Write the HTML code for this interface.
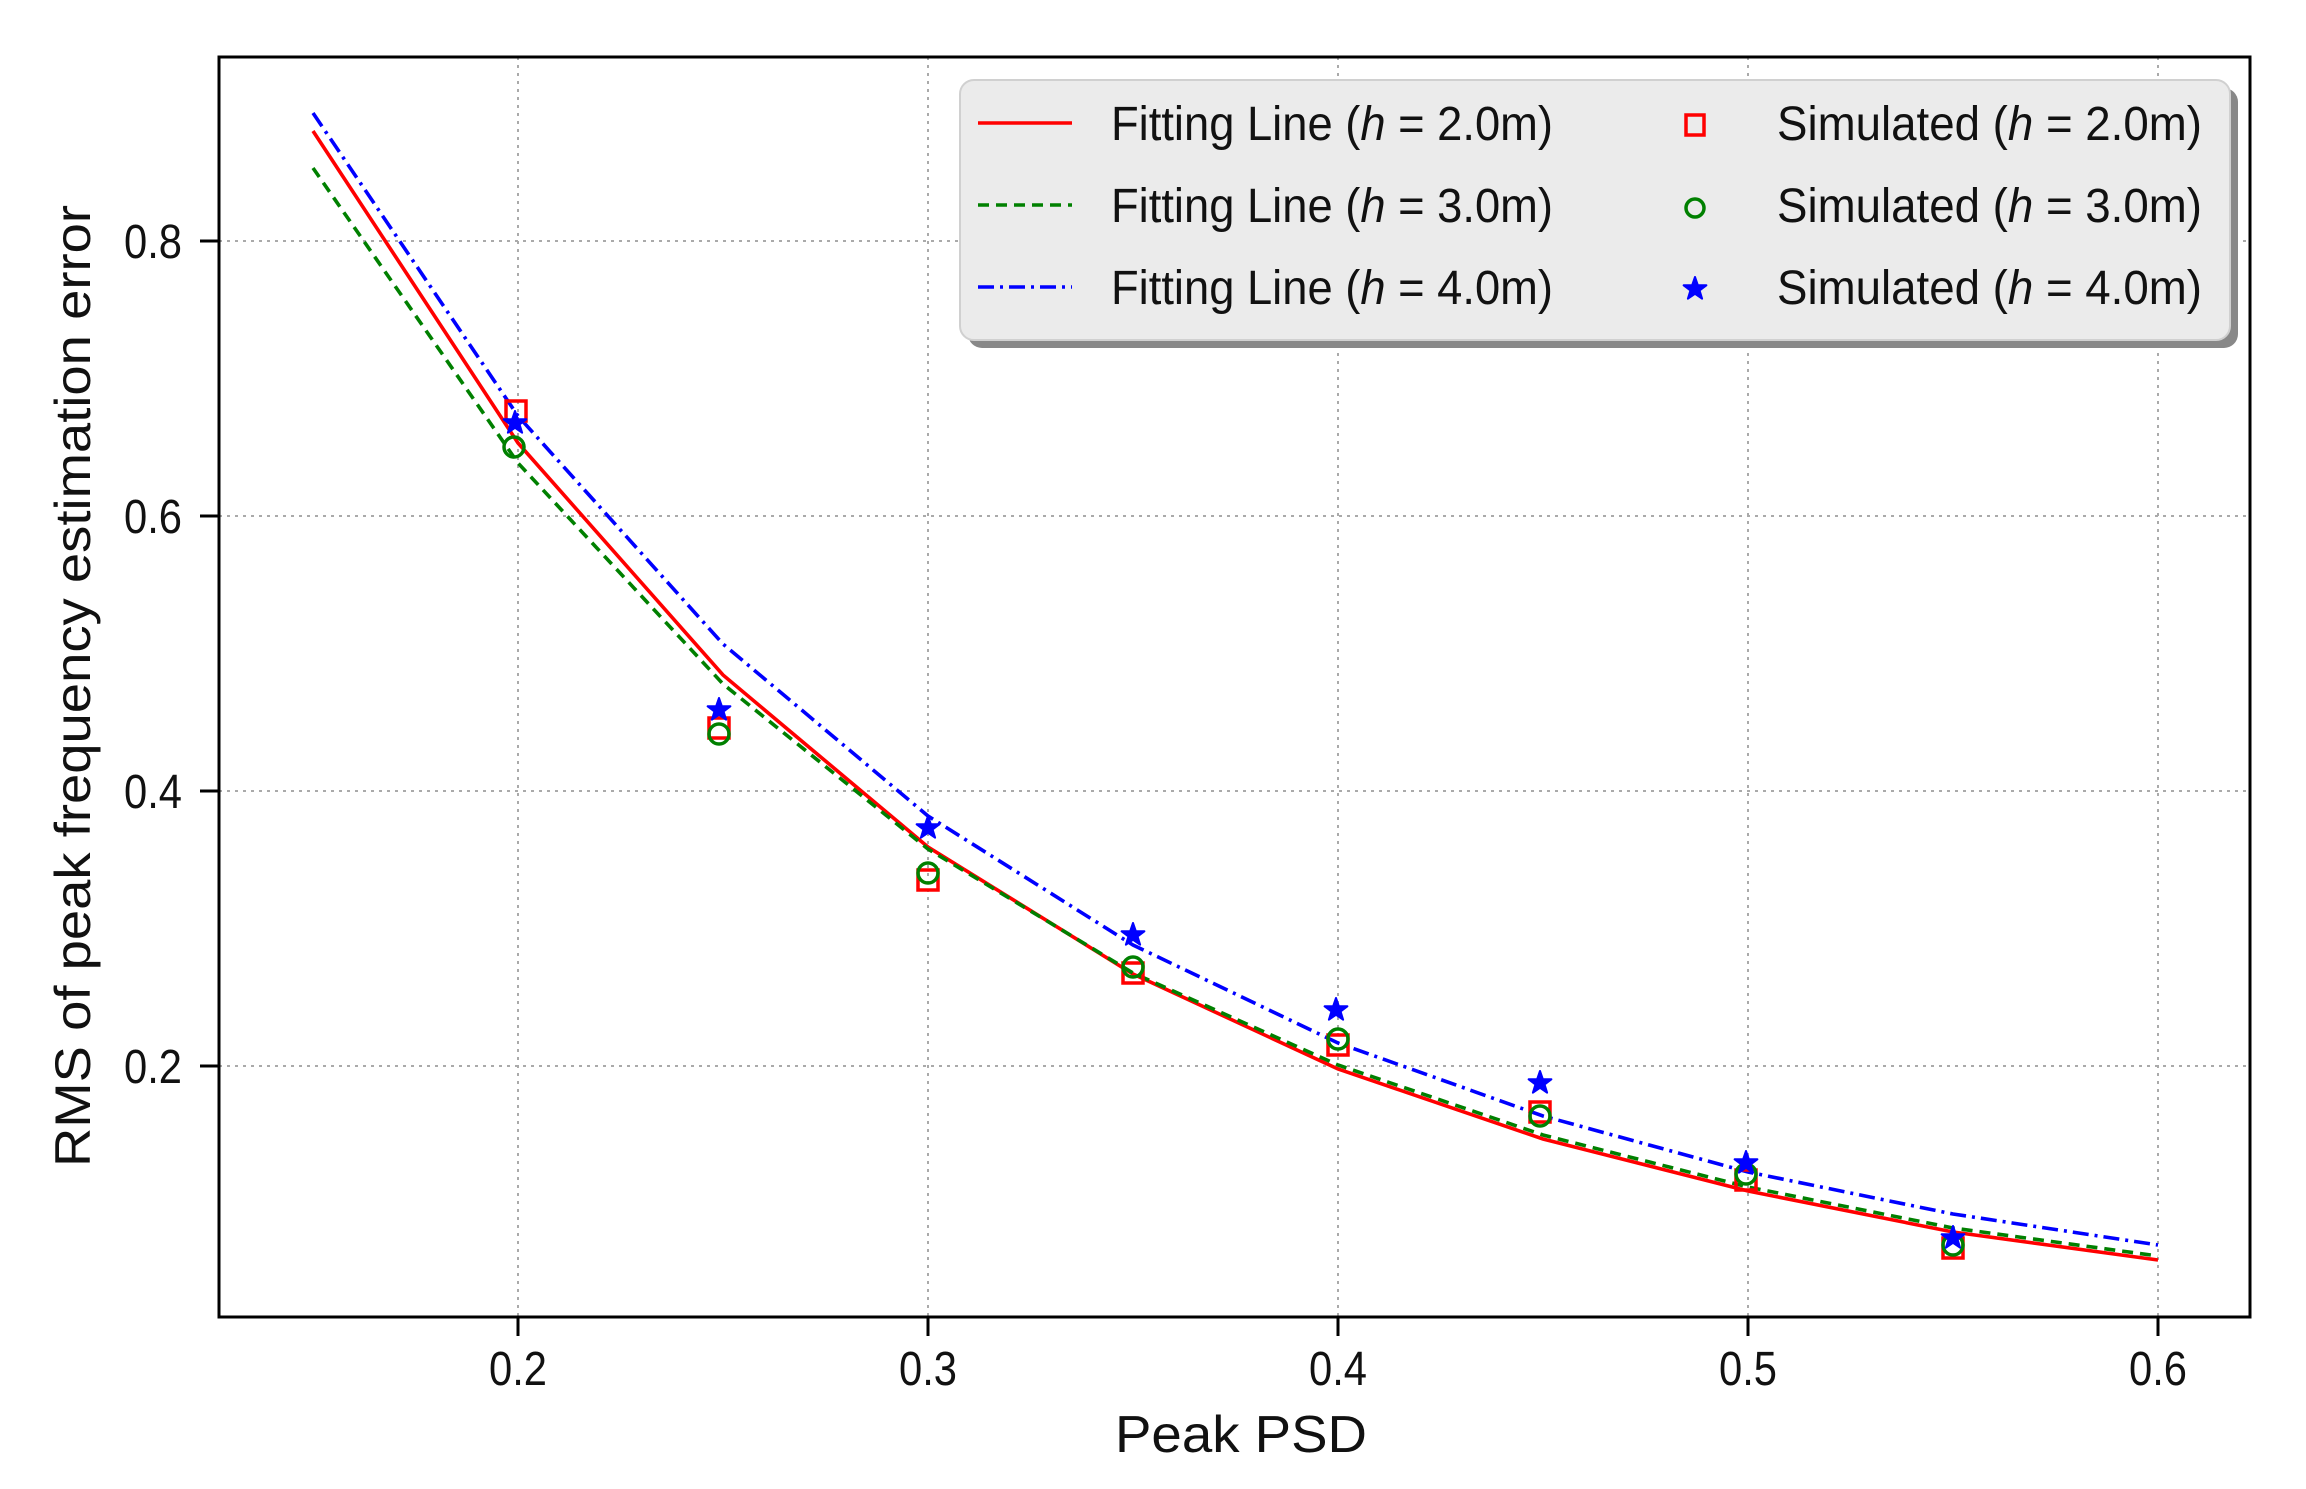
<!DOCTYPE html>
<html><head><meta charset="utf-8"><style>
html,body{margin:0;padding:0;background:#fff;}
svg{display:block;font-family:"Liberation Sans",Arial,sans-serif;}
</style></head><body>
<svg width="2306" height="1489" viewBox="0 0 2306 1489" xmlns="http://www.w3.org/2000/svg">
<defs>
<clipPath id="c"><rect x="219" y="57" width="2031" height="1260"/></clipPath>
<path id="star" d="M0,-12 L2.8,-3.9 L11.4,-3.7 L4.6,1.5 L7.1,9.7 L0,4.8 L-7.1,9.7 L-4.6,1.5 L-11.4,-3.7 L-2.8,-3.9 Z" fill="#0000ff" stroke="#0000ff" stroke-width="2" stroke-linejoin="round"/>
</defs>
<rect width="2306" height="1489" fill="#fff"/>
<g stroke="#aaa" stroke-width="2" stroke-dasharray="3,5">
<line x1="518" y1="57" x2="518" y2="1317"/><line x1="928" y1="57" x2="928" y2="1317"/>
<line x1="1338" y1="57" x2="1338" y2="1317"/><line x1="1748" y1="57" x2="1748" y2="1317"/>
<line x1="2158" y1="57" x2="2158" y2="1317"/>
<line x1="219" y1="241" x2="2250" y2="241"/><line x1="219" y1="516" x2="2250" y2="516"/>
<line x1="219" y1="791" x2="2250" y2="791"/><line x1="219" y1="1066" x2="2250" y2="1066"/>
</g>
<g clip-path="url(#c)" fill="none" stroke-width="3.6">
<polyline stroke="#ff0000" points="313,131 518,443 723,675 928,847 1133,974 1338,1069 1543,1139 1748,1191 1953,1232 2158,1260"/>
<polyline stroke="#008000" stroke-dasharray="11,7" points="313,168 518,463 723,684 928,849 1133,973 1338,1065 1543,1135 1748,1187 1953,1228 2158,1256"/>
<polyline stroke="#0000ff" stroke-dasharray="16,6,3,6" points="313,113 518,416 723,644 928,816 1133,945 1338,1043 1543,1116 1748,1172 1953,1214 2158,1245"/>
</g>
<g fill="none" stroke="#ff0000" stroke-width="3.5">
<rect x="506" y="401" width="20" height="20"/><rect x="709" y="718" width="20" height="20"/>
<rect x="918" y="870" width="20" height="20"/><rect x="1123" y="963" width="20" height="20"/>
<rect x="1328" y="1035" width="20" height="20"/><rect x="1530" y="1102" width="20" height="20"/>
<rect x="1736" y="1170" width="20" height="20"/><rect x="1943" y="1238" width="20" height="20"/>
</g>
<g fill="none" stroke="#008000" stroke-width="3.5">
<circle cx="514" cy="447" r="10"/><circle cx="719" cy="734" r="10"/><circle cx="928" cy="873" r="10"/>
<circle cx="1133" cy="967" r="10"/><circle cx="1338" cy="1039" r="10"/><circle cx="1540" cy="1116" r="10"/>
<circle cx="1746" cy="1174" r="10"/><circle cx="1953" cy="1245" r="10"/>
</g>
<use href="#star" x="515" y="423"/><use href="#star" x="719" y="710"/><use href="#star" x="928" y="828"/>
<use href="#star" x="1133" y="935"/><use href="#star" x="1336" y="1010"/><use href="#star" x="1540" y="1083"/>
<use href="#star" x="1746" y="1163"/><use href="#star" x="1953" y="1238"/>
<rect x="219" y="57" width="2031" height="1260" fill="none" stroke="#000" stroke-width="3"/>
<g stroke="#000" stroke-width="3">
<line x1="518" y1="1317" x2="518" y2="1336"/><line x1="928" y1="1317" x2="928" y2="1336"/>
<line x1="1338" y1="1317" x2="1338" y2="1336"/><line x1="1748" y1="1317" x2="1748" y2="1336"/>
<line x1="2158" y1="1317" x2="2158" y2="1336"/>
<line x1="200" y1="241" x2="219" y2="241"/><line x1="200" y1="516" x2="219" y2="516"/>
<line x1="200" y1="791" x2="219" y2="791"/><line x1="200" y1="1066" x2="219" y2="1066"/>
</g>
<g font-size="48" fill="#111" text-anchor="middle">
<text x="518" y="1385" textLength="58" lengthAdjust="spacingAndGlyphs">0.2</text>
<text x="928" y="1385" textLength="58" lengthAdjust="spacingAndGlyphs">0.3</text>
<text x="1338" y="1385" textLength="58" lengthAdjust="spacingAndGlyphs">0.4</text>
<text x="1748" y="1385" textLength="58" lengthAdjust="spacingAndGlyphs">0.5</text>
<text x="2158" y="1385" textLength="58" lengthAdjust="spacingAndGlyphs">0.6</text>
</g>
<g font-size="48" fill="#111" text-anchor="end">
<text x="182" y="258" textLength="58" lengthAdjust="spacingAndGlyphs">0.8</text>
<text x="182" y="533" textLength="58" lengthAdjust="spacingAndGlyphs">0.6</text>
<text x="182" y="808" textLength="58" lengthAdjust="spacingAndGlyphs">0.4</text>
<text x="182" y="1083" textLength="58" lengthAdjust="spacingAndGlyphs">0.2</text>
</g>
<text x="1241" y="1452" font-size="52" text-anchor="middle" fill="#111" textLength="252" lengthAdjust="spacingAndGlyphs">Peak PSD</text>
<text transform="translate(90,686) rotate(-90)" font-size="50" text-anchor="middle" fill="#111" textLength="962" lengthAdjust="spacingAndGlyphs">RMS of peak frequency estimation error</text>
<rect x="968" y="88" width="1270" height="260" rx="14" fill="#888"/>
<rect x="960" y="80" width="1270" height="260" rx="14" fill="#ebebeb" stroke="#d0d0d0" stroke-width="2"/>
<line x1="978" y1="123" x2="1072" y2="123" stroke="#ff0000" stroke-width="3.5"/>
<line x1="978" y1="205" x2="1072" y2="205" stroke="#008000" stroke-width="3.5" stroke-dasharray="11,7"/>
<line x1="978" y1="287" x2="1072" y2="287" stroke="#0000ff" stroke-width="3.5" stroke-dasharray="16,6,3,6"/>
<rect x="1686" y="115" width="18" height="20" fill="none" stroke="#ff0000" stroke-width="3.5"/>
<circle cx="1695" cy="208" r="9" fill="none" stroke="#008000" stroke-width="3.5"/>
<use href="#star" x="1695" y="289"/>
<g font-size="48" fill="#111">
<text x="1111" y="140" textLength="442" lengthAdjust="spacingAndGlyphs">Fitting Line (<tspan font-style="italic">h</tspan> = 2.0m)</text>
<text x="1111" y="222" textLength="442" lengthAdjust="spacingAndGlyphs">Fitting Line (<tspan font-style="italic">h</tspan> = 3.0m)</text>
<text x="1111" y="304" textLength="442" lengthAdjust="spacingAndGlyphs">Fitting Line (<tspan font-style="italic">h</tspan> = 4.0m)</text>
<text x="1777" y="140" textLength="425" lengthAdjust="spacingAndGlyphs">Simulated (<tspan font-style="italic">h</tspan> = 2.0m)</text>
<text x="1777" y="222" textLength="425" lengthAdjust="spacingAndGlyphs">Simulated (<tspan font-style="italic">h</tspan> = 3.0m)</text>
<text x="1777" y="304" textLength="425" lengthAdjust="spacingAndGlyphs">Simulated (<tspan font-style="italic">h</tspan> = 4.0m)</text>
</g>
</svg>
</body></html>
